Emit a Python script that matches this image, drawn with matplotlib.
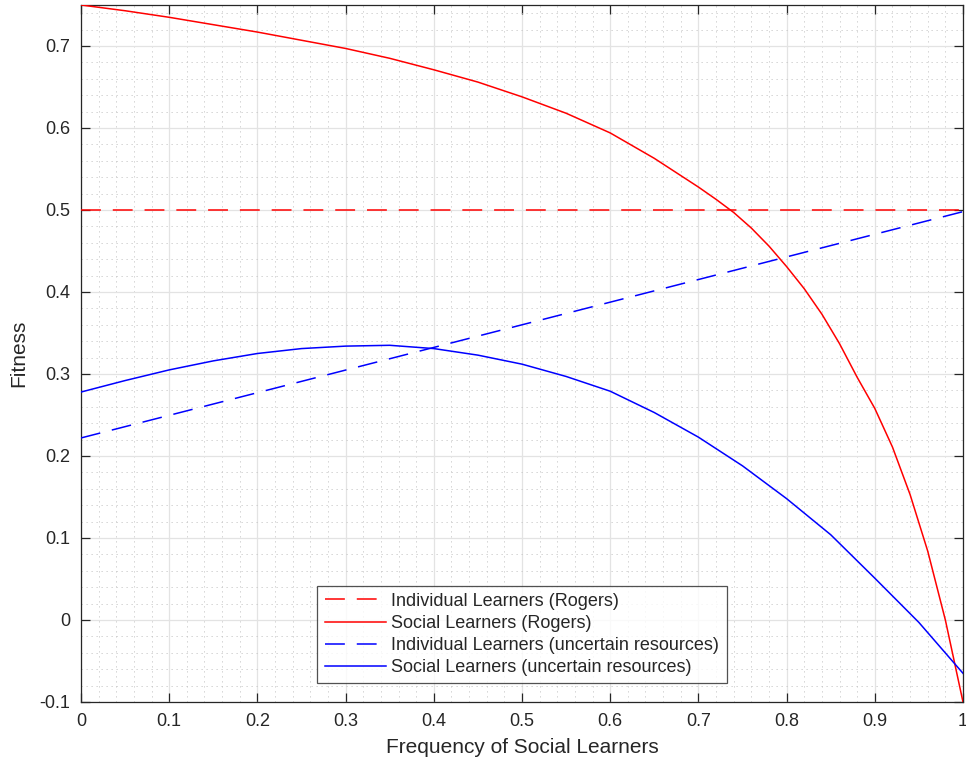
import numpy as np
import matplotlib.pyplot as plt
from matplotlib.ticker import MultipleLocator, FormatStrFormatter

# values
p_line = [0.0, 1.0]
ind_rogers = [0.5, 0.5]
ind_uncertain = [0.222, 0.498]

p_soc_rogers = [0.0, 0.05, 0.1, 0.15, 0.2, 0.25, 0.3, 0.35, 0.4, 0.45, 0.5, 0.55, 0.6, 0.65,
                0.7, 0.72, 0.74, 0.76, 0.78, 0.8, 0.82, 0.84, 0.86, 0.88, 0.9, 0.92, 0.94,
                0.96, 0.98, 1.0]
soc_rogers = [0.75, 0.743, 0.735, 0.726, 0.717, 0.707, 0.697, 0.685, 0.671, 0.656, 0.638, 0.618,
              0.594, 0.563, 0.528, 0.513, 0.497, 0.478, 0.456, 0.431, 0.404, 0.373, 0.337, 0.296,
              0.258, 0.211, 0.153, 0.084, 0.0, -0.1]

p_soc_uncertain = [0.0, 0.05, 0.1, 0.15, 0.2, 0.25, 0.3, 0.35, 0.4, 0.45, 0.5, 0.55, 0.6, 0.65,
                   0.7, 0.75, 0.8, 0.85, 0.9, 0.95, 1.0]
soc_uncertain = [0.278, 0.292, 0.305, 0.316, 0.325, 0.331, 0.334, 0.335, 0.331, 0.323, 0.312,
                 0.297, 0.279, 0.253, 0.223, 0.188, 0.148, 0.104, 0.051, -0.003, -0.065]

labels = ["Individual Learners (Rogers)", "Social Learners (Rogers)",
          "Individual Learners (uncertain resources)", "Social Learners (uncertain resources)"]

plt.rcParams['font.family'] = ['Liberation Sans', 'DejaVu Sans']
plt.rcParams['axes.unicode_minus'] = False
txt = '#262626'

fig = plt.figure(figsize=(9.66, 7.66), dpi=100)
ax = fig.add_axes([81 / 966, 1 - 702 / 766, (963 - 81) / 966, (702 - 5) / 766])

lw = 1.1
dash = (13, 7.8)
ax.plot(p_line, ind_rogers, color='red', lw=lw, dashes=dash, label=labels[0], zorder=3)
ax.plot(p_soc_rogers, soc_rogers, color='red', lw=lw, label=labels[1], zorder=3)
ax.plot(p_line, ind_uncertain, color='blue', lw=lw, dashes=dash, label=labels[2], zorder=3)
ax.plot(p_soc_uncertain, soc_uncertain, color='blue', lw=lw, label=labels[3], zorder=3)

ax.set_xlim(0, 1)
ax.set_ylim(-0.1, 0.75)
ax.xaxis.set_major_locator(MultipleLocator(0.1))
ax.yaxis.set_major_locator(MultipleLocator(0.1))
ax.xaxis.set_minor_locator(MultipleLocator(0.02))
ax.yaxis.set_minor_locator(MultipleLocator(0.02))
ax.xaxis.set_major_formatter(FormatStrFormatter('%g'))
ax.yaxis.set_major_formatter(FormatStrFormatter('%g'))

ax.grid(True, which='major', color='#e3e3e3', lw=0.9, zorder=0)
ax.grid(True, which='minor', color='#c4c4c4', lw=0.6, ls=(0, (1.5, 4.5)), zorder=0)
ax.set_axisbelow(True)

ax.tick_params(which='major', direction='in', length=6.5, width=0.9, colors=txt,
               top=True, right=True, labelsize=13, pad=8)
ax.tick_params(which='minor', length=0, top=True, right=True)
for s in ax.spines.values():
    s.set_color(txt)
    s.set_linewidth(0.9)

ax.set_xlabel("Frequency of Social Learners", fontsize=15, color=txt, labelpad=6)
ax.set_ylabel("Fitness", fontsize=15, color=txt, labelpad=8)

leg = ax.legend(loc='lower center', bbox_to_anchor=(0.5, 0.027), fontsize=13,
                frameon=True, fancybox=False, handlelength=3.4, handletextpad=0.3,
                labelspacing=0.28, borderpad=0.4, borderaxespad=0)
leg.get_frame().set_edgecolor(txt)
leg.get_frame().set_linewidth(0.9)
for t in leg.get_texts():
    t.set_color(txt)

fig.savefig('out.png', dpi=100)
